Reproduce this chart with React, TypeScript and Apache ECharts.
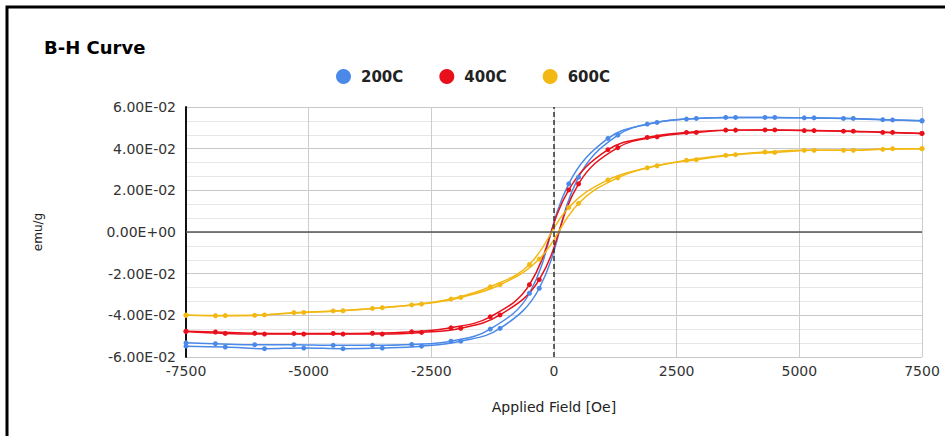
import React, { useEffect, useRef } from "react";
import * as echarts from "echarts";

const TITLE = "B-H Curve";
const SERIES_NAMES = ["200C", "400C", "600C"];
const COLORS = ["#4a89e8", "#e8101b", "#f2b813"];

// Applied field sampled on the descending (from +7500) and ascending (from -7500) branches
const H_DESC = [7500, 6700, 5900, 5100, 4300, 3500, 2700, 1900, 1100, 300, -500, -1300, -2100, -2900, -3700, -4500, -5300, -6100, -6900, -7500];
const H_ASC = [-7500, -6700, -5900, -5100, -4300, -3500, -2700, -1900, -1100, -300, 500, 1300, 2100, 2900, 3700, 4500, 5300, 6100, 6900, 7500];

const B200_DESC = [0.0534, 0.0539, 0.0545, 0.0548, 0.055, 0.055, 0.0542, 0.0518, 0.0449, 0.0231, -0.0294, -0.0466, -0.0524, -0.054, -0.0544, -0.0544, -0.0541, -0.0541, -0.0536, -0.0532];
const B200_ASC = [-0.0548, -0.0552, -0.056, -0.0557, -0.056, -0.0557, -0.0548, -0.0524, -0.0463, -0.027, 0.0263, 0.0465, 0.0526, 0.0545, 0.055, 0.055, 0.0548, 0.0545, 0.0538, 0.0534];

const B400_DESC = [0.0473, 0.0478, 0.0484, 0.0487, 0.049, 0.0489, 0.0478, 0.0454, 0.0395, 0.0202, -0.0253, -0.0407, -0.046, -0.0479, -0.0486, -0.0487, -0.0487, -0.0486, -0.048, -0.0476];
const B400_ASC = [-0.0478, -0.0487, -0.049, -0.049, -0.049, -0.049, -0.0482, -0.0462, -0.0398, -0.0229, 0.0231, 0.0405, 0.0457, 0.0478, 0.0489, 0.049, 0.0487, 0.0484, 0.0478, 0.0473];

const B600_DESC = [0.04, 0.0397, 0.0392, 0.0392, 0.0384, 0.0368, 0.0344, 0.0308, 0.025, 0.0118, -0.0156, -0.0263, -0.0322, -0.035, -0.0367, -0.0379, -0.0387, -0.04, -0.0402, -0.0399];
const B600_ASC = [-0.04, -0.0401, -0.0398, -0.0386, -0.0378, -0.0363, -0.0346, -0.0314, -0.0253, -0.013, 0.0137, 0.026, 0.0318, 0.0347, 0.0371, 0.0382, 0.0392, 0.0392, 0.04, 0.04];

const X_MIN = -7500;
const X_MAX = 7500;
const X_STEP = 2500;
const Y_MIN = -0.06;
const Y_MAX = 0.06;
const Y_STEP = 0.02;
const X_NAME = "Applied Field [Oe]";
const Y_NAME = "emu/g";

function fmtSci(v: number): string {
  if (Math.abs(v) < 1e-12) return "0.00E+00";
  let e = Math.floor(Math.log10(Math.abs(v)));
  let m = v / Math.pow(10, e);
  if (Math.abs(m) >= 9.995) {
    e += 1;
    m = v / Math.pow(10, e);
  }
  const sign = e < 0 ? "-" : "+";
  const ae = Math.abs(e);
  return m.toFixed(2) + "E" + sign + (ae < 10 ? "0" + ae : String(ae));
}

function pairs(xs: number[], ys: number[]) {
  return xs.map((x, i) => [x, ys[i]]);
}

export default function App() {
  const ref = useRef<HTMLDivElement>(null);
  useEffect(() => {
    if (!ref.current) return;
    const chart = echarts.init(ref.current, undefined, { renderer: "svg" });
    const branches = [
      [B200_DESC, B200_ASC],
      [B400_DESC, B400_ASC],
      [B600_DESC, B600_ASC],
    ];
    const series: any[] = [];
    branches.forEach((br, i) => {
      [0, 1].forEach((k) => {
        series.push({
          type: "line",
          name: SERIES_NAMES[i],
          data: pairs(k === 0 ? H_DESC : H_ASC, br[k]),
          smooth: 0.4,
          symbol: "circle",
          symbolSize: 5,
          showSymbol: true,
          itemStyle: { color: COLORS[i] },
          lineStyle: { color: COLORS[i], width: 1.5 },
          z: 3,
        });
      });
    });
    series.push({
      type: "line",
      name: "__axes",
      data: [],
      silent: true,
      markLine: {
        silent: true,
        symbol: ["none", "none"],
        label: { show: false },
        animation: false,
        data: [
          { yAxis: 0, lineStyle: { color: "#555", width: 1.5, type: "solid" } },
          { xAxis: 0, lineStyle: { color: "#333", width: 1.5, type: [5, 3] } },
        ],
      },
      z: 1,
    });

    chart.setOption({
      animation: false,
      backgroundColor: "#ffffff",
      title: {
        text: TITLE,
        left: 39,
        top: 33,
        textStyle: {
          fontFamily: "DejaVu Sans",
          fontWeight: 900,
          fontSize: 18,
          color: "#000",
        },
      },
      legend: {
        data: SERIES_NAMES,
        top: 64,
        left: 331,
        icon: "circle",
        itemWidth: 15,
        itemHeight: 15,
        itemGap: 36,
        textStyle: {
          fontFamily: "DejaVu Sans",
          fontWeight: "bold",
          fontSize: 15,
          color: "#222",
          padding: [0, 0, 0, 5],
        },
      },
      graphic: [
        {
          type: "rect",
          shape: { x: 7, y: 7, width: 960, height: 460 },
          style: { fill: "none", stroke: "#000", lineWidth: 3 },
          silent: true,
          z: 100,
        },
      ],
      grid: { left: 186, right: 23, top: 107, bottom: 79 },
      xAxis: {
        type: "value",
        min: X_MIN,
        max: X_MAX,
        interval: X_STEP,
        name: X_NAME,
        nameLocation: "middle",
        nameGap: 43,
        nameTextStyle: { fontFamily: "DejaVu Sans", fontSize: 14, color: "#222" },
        axisLine: { show: false, onZero: false },
        axisTick: { show: false },
        axisLabel: {
          fontFamily: "DejaVu Sans",
          fontSize: 14,
          color: "#333",
          margin: 7,
          formatter: (v: number) => String(v),
        },
        splitLine: { show: true, lineStyle: { color: "#cccccc", width: 1 } },
      },
      yAxis: {
        type: "value",
        min: Y_MIN,
        max: Y_MAX,
        interval: Y_STEP,
        name: Y_NAME,
        nameLocation: "middle",
        nameGap: 142,
        nameRotate: 90,
        nameTextStyle: { fontFamily: "DejaVu Sans", fontSize: 12, color: "#222" },
        axisLine: { show: true, onZero: false, lineStyle: { color: "#111", width: 2 } },
        axisTick: { show: false },
        axisLabel: {
          fontFamily: "DejaVu Sans",
          fontSize: 14,
          color: "#333",
          margin: 10,
          formatter: (v: number) => fmtSci(v),
        },
        splitLine: { show: true, lineStyle: { color: "#c8c8c8", width: 1 } },
        minorTick: { show: false, splitNumber: 3 },
        minorSplitLine: { show: true, lineStyle: { color: "#e6e6e6", width: 1 } },
      },
      series,
    });
    return () => chart.dispose();
  }, []);
  return (
    <div
      ref={ref}
      style={{ position: "fixed", left: 0, top: 0, width: 945, height: 436, background: "#fff" }}
    />
  );
}
